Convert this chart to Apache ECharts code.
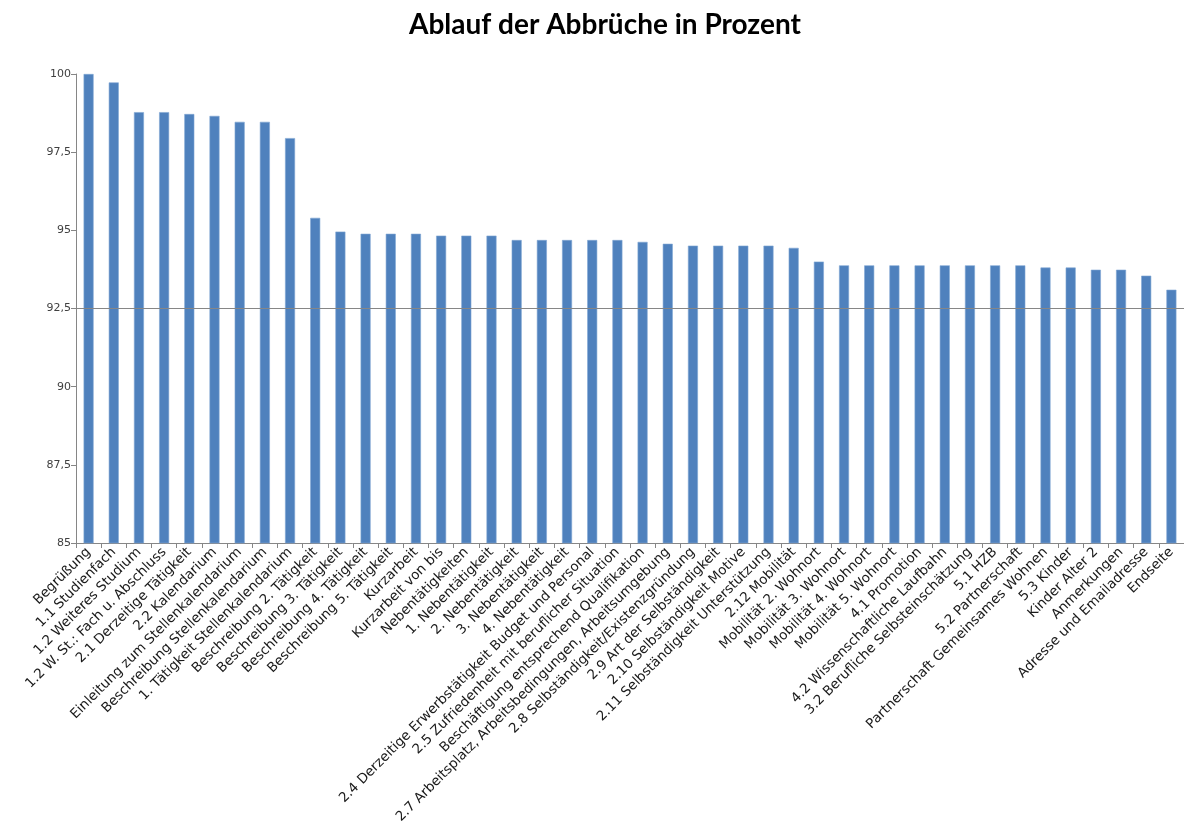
<!DOCTYPE html>
<html>
<head>
<meta charset="utf-8">
<script src="https://cdn.jsdelivr.net/npm/echarts@6/dist/echarts.min.js"></script>
<style>
  html, body { margin: 0; padding: 0; background: #ffffff; }
  #chart { width: 1184px; height: 836px; }
</style>
</head>
<body>
<div id="chart"></div>
<script>
// Fragebogen-Seiten in Reihenfolge
const categories = [
  "Begrüßung",
  "1.1 Studienfach",
  "1.2 Weiteres Studium",
  "1.2 W. St.: Fach u. Abschluss",
  "2.1 Derzeitige Tätigkeit",
  "2.2 Kalendarium",
  "Einleitung zum Stellenkalendarium",
  "Beschreibung Stellenkalendarium",
  "1. Tätigkeit Stellenkalendarium",
  "Beschreibung 2. Tätigkeit",
  "Beschreibung 3. Tätigkeit",
  "Beschreibung 4. Tätigkeit",
  "Beschreibung 5. Tätigkeit",
  "Kurzarbeit",
  "Kurzarbeit von bis",
  "Nebentätigkeiten",
  "1. Nebentätigkeit",
  "2. Nebentätigkeit",
  "3. Nebentätigkeit",
  "4. Nebentätigkeit",
  "2.4 Derzeitige Erwerbstätigkeit Budget und Personal",
  "2.5 Zufriedenheit mit beruflicher Situation",
  "Beschäftigung entsprechend Qualifikation",
  "2.7 Arbeitsplatz, Arbeitsbedingungen, Arbeitsumgebung",
  "2.8 Selbständigkeit/Existenzgründung",
  "2.9 Art der Selbständigkeit",
  "2.10 Selbständigkeit Motive",
  "2.11 Selbständigkeit Unterstützung",
  "2.12 Mobilität",
  "Mobilität 2. Wohnort",
  "Mobilität 3. Wohnort",
  "Mobilität 4. Wohnort",
  "Mobilität 5. Wohnort",
  "4.1 Promotion",
  "4.2 Wissenschaftliche Laufbahn",
  "3.2 Berufliche Selbsteinschätzung",
  "5.1 HZB",
  "5.2 Partnerschaft",
  "Partnerschaft Gemeinsames Wohnen",
  "5.3 Kinder",
  "Kinder Alter 2",
  "Anmerkungen",
  "Adresse und Emailadresse",
  "Endseite"
];

// Anteil der Teilnehmenden je Seite (Prozent)
const values = [
  100, 99.73, 98.78, 98.78, 98.72, 98.66, 98.47, 98.47, 97.95, 95.40,
  94.96, 94.89, 94.89, 94.89, 94.83, 94.83, 94.83, 94.69, 94.69, 94.69,
  94.69, 94.69, 94.63, 94.57, 94.51, 94.51, 94.51, 94.51, 94.44, 94.00,
  93.88, 93.88, 93.88, 93.88, 93.88, 93.88, 93.88, 93.88, 93.81, 93.81,
  93.74, 93.74, 93.55, 93.10
];

const yMin = 85;
const yMax = 100;
const yStep = 2.5;
const refLine = 92.5;
const titleText = "Ablauf der Abbrüche in Prozent";

const chart = echarts.init(document.getElementById('chart'), null, { renderer: 'canvas' });

chart.setOption({
  animation: false,
  backgroundColor: '#ffffff',
  title: {
    text: titleText,
    left: 404,
    top: 6,
    textStyle: {
      fontFamily: 'Lato, "Open Sans", sans-serif',
      fontWeight: 'bold',
      fontSize: 28,
      color: '#000000'
    }
  },
  grid: {
    left: 76,
    right: -1,
    top: 74,
    bottom: 293,
    containLabel: false
  },
  xAxis: {
    type: 'category',
    data: categories,
    axisLine: { show: true, lineStyle: { color: '#868686', width: 1 } },
    axisTick: { show: true, alignWithLabel: false, interval: 0, length: 5, lineStyle: { color: '#868686' } },
    axisLabel: {
      interval: 0,
      rotate: 45,
      margin: 7,
      fontFamily: '"DejaVu Sans", sans-serif',
      fontSize: 13.5,
      color: '#1a1a1a'
    },
    splitLine: { show: false }
  },
  yAxis: {
    type: 'value',
    min: yMin,
    max: yMax,
    interval: yStep,
    axisLine: { show: true, lineStyle: { color: '#868686', width: 1 } },
    axisTick: { show: true, length: 5, lineStyle: { color: '#868686' } },
    axisLabel: {
      margin: 5,
      fontFamily: '"DejaVu Sans", sans-serif',
      fontSize: 11,
      color: '#404040',
      formatter: v => String(v).replace('.', ',')
    },
    splitLine: { show: false }
  },
  series: [{
    type: 'bar',
    data: values,
    barWidth: 10,
    itemStyle: { color: '#4F81BD', borderColor: '#7fa6d3', borderWidth: 0.6 },
    markLine: {
      silent: true,
      symbol: 'none',
      label: { show: false },
      lineStyle: { color: '#868686', width: 1, type: 'solid' },
      data: [{ yAxis: refLine }]
    }
  }]
});
</script>
</body>
</html>
